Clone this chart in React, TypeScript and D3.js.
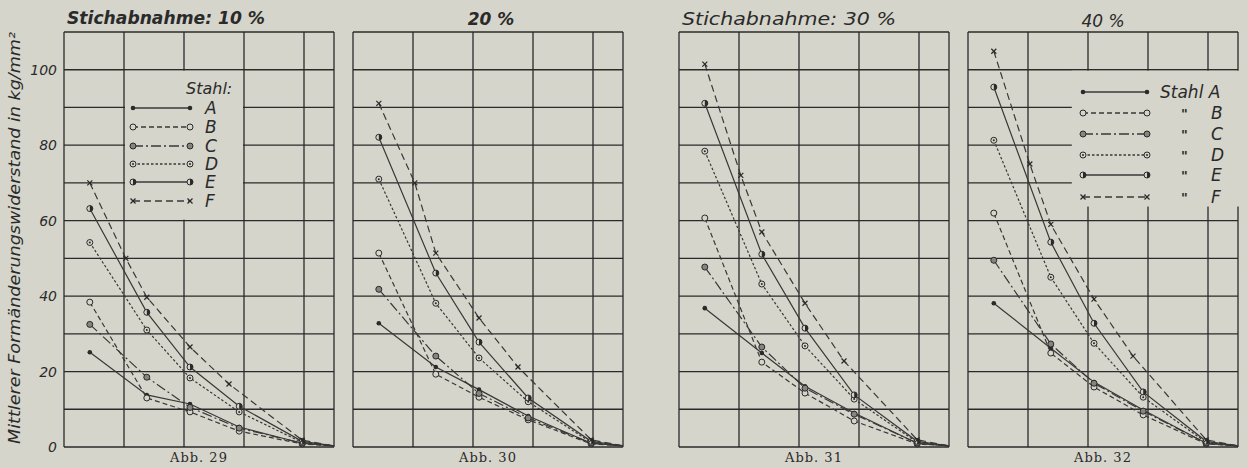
import * as d3 from 'd3';

const panelTitles = ['Stichabnahme: 10 %', '20 %', 'Stichabnahme: 30 %', '40 %'];
const figureLabels = ['Abb. 29', 'Abb. 30', 'Abb. 31', 'Abb. 32'];
const steelNames = ['A', 'B', 'C', 'D', 'E', 'F'];
const yTicks = [0, 20, 40, 60, 80, 100];
const yTitle = 'Mittlerer Formänderungswiderstand in kg/mm²';

// x positions of the measured points (F has two extra points)
const passX = [0.43, 1.38, 2.1, 2.92, 3.97, 4.5];
const passXF = [0.43, 1.03, 1.38, 2.1, 2.75, 3.97, 4.5];

// values per panel: 10 %, 20 %, 30 %, 40 %
const stahlA = [
  [25.1, 13.8, 11.4, 5.3, 1.0, 0.3],
  [32.8, 21.2, 15.2, 8.2, 1.0, 0.3],
  [36.8, 24.9, 16.1, 9.0, 1.0, 0.3],
  [38.1, 26.2, 17.2, 9.8, 1.0, 0.3],
];
const stahlB = [
  [38.4, 13.0, 9.3, 4.2, 0.8, 0.3],
  [51.4, 19.3, 13.2, 7.2, 0.8, 0.3],
  [60.7, 22.5, 14.3, 6.9, 0.8, 0.3],
  [62.0, 24.9, 15.9, 8.5, 0.8, 0.3],
];
const stahlC = [
  [32.5, 18.5, 10.5, 5.0, 1.0, 0.3],
  [41.8, 24.1, 14.2, 7.7, 1.0, 0.3],
  [47.7, 26.5, 15.6, 8.7, 1.0, 0.3],
  [49.5, 27.3, 16.9, 9.5, 1.0, 0.3],
];
const stahlD = [
  [54.2, 31.0, 18.3, 9.3, 1.2, 0.3],
  [71.0, 38.1, 23.6, 12.0, 1.2, 0.3],
  [78.4, 43.2, 26.8, 12.7, 1.2, 0.3],
  [81.3, 45.0, 27.5, 13.2, 1.2, 0.3],
];
const stahlE = [
  [63.2, 35.7, 21.2, 10.8, 1.5, 0.3],
  [82.1, 46.1, 27.8, 13.0, 1.5, 0.3],
  [91.1, 51.1, 31.5, 13.8, 1.5, 0.3],
  [95.4, 54.3, 32.8, 14.6, 1.5, 0.3],
];
const stahlF = [
  [70.0, 50.0, 39.7, 26.5, 16.7, 1.8, 0.3],
  [91.1, 70.0, 51.4, 34.2, 21.2, 1.9, 0.3],
  [101.5, 72.0, 57.0, 38.1, 22.8, 1.9, 0.3],
  [104.9, 75.0, 59.0, 39.2, 24.1, 1.9, 0.3],
];

const seriesValues = [stahlA, stahlB, stahlC, stahlD, stahlE, stahlF];

const BG = '#d6d5cb';
const INK = '#2a2a2a';
const LINE = '#383838';

const dashes: Record<string, string> = {
  A: '',
  B: '5,3',
  C: '10,3,2,3',
  D: '2.5,2',
  E: '',
  F: '7,4',
};

const panelLeft = [64, 353, 679, 968];
const unit = 60;
const yScale = d3.scaleLinear().domain([0, 110]).range([447, 32]);

function Marker({ kind, x, y }: { kind: string; x: number; y: number }) {
  const r = 3;
  if (kind === 'A') return <circle cx={x} cy={y} r={2.3} fill={INK} />;
  if (kind === 'B') return <circle cx={x} cy={y} r={r} fill={BG} stroke={INK} strokeWidth={1} />;
  if (kind === 'C') return <circle cx={x} cy={y} r={r} fill="#85847e" stroke={INK} strokeWidth={1} />;
  if (kind === 'D')
    return (
      <g>
        <circle cx={x} cy={y} r={r} fill={BG} stroke={INK} strokeWidth={1} />
        <circle cx={x} cy={y} r={1} fill={INK} />
      </g>
    );
  if (kind === 'E')
    return (
      <g>
        <circle cx={x} cy={y} r={r} fill={BG} stroke={INK} strokeWidth={1} />
        <path d={`M${x},${y - r} A${r},${r} 0 0,1 ${x},${y + r} Z`} fill={INK} />
      </g>
    );
  const s = 2.5;
  return (
    <g stroke={INK} strokeWidth={1.2}>
      <line x1={x - s} y1={y - s} x2={x + s} y2={y + s} />
      <line x1={x - s} y1={y + s} x2={x + s} y2={y - s} />
    </g>
  );
}

function Panel({ idx }: { idx: number }) {
  const left = panelLeft[idx];
  const x = d3.scaleLinear().domain([0, 4.5]).range([left, left + 4.5 * unit]);
  const gridX = d3.range(0, 5).concat([4.5]);
  const gridY = d3.range(0, 120, 10).filter((v) => v <= 110);
  const line = d3
    .line<[number, number]>()
    .x((d) => x(d[0]))
    .y((d) => yScale(d[1]));

  return (
    <g>
      {gridX.map((v) => (
        <line key={'vx' + v} x1={x(v)} x2={x(v)} y1={yScale(0)} y2={yScale(110)} stroke={INK} strokeWidth={1.3} />
      ))}
      {gridY.map((v) => (
        <line key={'hy' + v} x1={x(0)} x2={x(4.5)} y1={yScale(v)} y2={yScale(v)} stroke={INK} strokeWidth={1.3} />
      ))}
      {idx === 0 && <rect x={x(1) + 1} y={yScale(100) + 1} width={x(3) - x(1) - 2} height={yScale(60) - yScale(100) - 2} fill={BG} />}
      {idx === 3 && <rect x={x(1.73)} y={yScale(100) + 1} width={x(4.5) - x(1.73) + 2} height={yScale(64) - yScale(100)} fill={BG} />}
      {steelNames.map((name, si) => {
        const vals = seriesValues[si][idx];
        const xs = name === 'F' ? passXF : passX;
        const pts = vals.map((v, i) => [xs[i], v] as [number, number]);
        return (
          <g key={name}>
            <path d={line(pts) || ''} fill="none" stroke={LINE} strokeWidth={1.2} strokeDasharray={dashes[name]} />
            {pts.slice(0, pts.length - 1).map((p, i) => (
              <Marker key={i} kind={name} x={x(p[0])} y={yScale(p[1])} />
            ))}
          </g>
        );
      })}
      <text x={x(2.25)} y={462} textAnchor="middle" fontFamily="DejaVu Serif, serif" fontSize={13} letterSpacing={1} fill={INK}>
        {figureLabels[idx]}
      </text>
    </g>
  );
}

function LegendTen() {
  const rows = [108, 127, 146, 164, 182, 201];
  return (
    <g>
      <text x={186} y={94} fontFamily="DejaVu Sans, sans-serif" fontStyle="italic" fontSize={16} fill={INK}>
        Stahl:
      </text>
      {steelNames.map((name, i) => (
        <g key={name}>
          <line x1={133} x2={190} y1={rows[i]} y2={rows[i]} stroke={LINE} strokeWidth={1.3} strokeDasharray={dashes[name]} />
          <Marker kind={name} x={133} y={rows[i]} />
          <Marker kind={name} x={190} y={rows[i]} />
          <text x={205} y={rows[i] + 6} fontFamily="DejaVu Sans, sans-serif" fontStyle="italic" fontSize={17} fill={INK}>
            {name}
          </text>
        </g>
      ))}
    </g>
  );
}

function LegendForty() {
  const rows = [92, 113, 134, 155, 175, 197];
  return (
    <g>
      {steelNames.map((name, i) => (
        <g key={name}>
          <line x1={1083} x2={1147} y1={rows[i]} y2={rows[i]} stroke={LINE} strokeWidth={1.3} strokeDasharray={dashes[name]} />
          <Marker kind={name} x={1083} y={rows[i]} />
          <Marker kind={name} x={1147} y={rows[i]} />
          {i === 0 ? (
            <text x={1160} y={rows[i] + 6} fontFamily="DejaVu Sans, sans-serif" fontStyle="italic" fontSize={17} fill={INK}>
              Stahl A
            </text>
          ) : (
            <g>
              <text x={1181} y={rows[i] + 5} fontFamily="DejaVu Sans, sans-serif" fontStyle="italic" fontWeight="bold" fontSize={13} fill={INK}>
                "
              </text>
              <text x={1211} y={rows[i] + 6} fontFamily="DejaVu Sans, sans-serif" fontStyle="italic" fontSize={17} fill={INK}>
                {name}
              </text>
            </g>
          )}
        </g>
      ))}
    </g>
  );
}

export default function App() {
  const titleFont = 'DejaVu Sans, sans-serif';
  return (
    <div style={{ position: 'absolute', left: 0, top: 0, width: 1248, height: 468, background: BG }}>
      <svg width={1248} height={468} style={{ display: 'block' }}>
        <rect x={0} y={0} width={1248} height={468} fill={BG} />
        {[0, 1, 2, 3].map((i) => (
          <Panel key={i} idx={i} />
        ))}
        <LegendTen />
        <LegendForty />
        {yTicks.map((t) => (
          <text key={t} x={57} y={yScale(t) + 5} textAnchor="end" fontFamily={titleFont} fontStyle="italic" fontSize={14} fill={INK}>
            {t}
          </text>
        ))}
        <text
          transform="translate(20,238) rotate(-90)"
          textAnchor="middle"
          fontFamily={titleFont}
          fontStyle="italic"
          fontSize={15}
          fill={INK}
          textLength={412}
          lengthAdjust="spacingAndGlyphs"
        >
          {yTitle}
        </text>
        <text x={67} y={24} fontFamily={titleFont} fontStyle="italic" fontWeight="bold" fontSize={17} fill={INK} textLength={198} lengthAdjust="spacingAndGlyphs">
          {panelTitles[0]}
        </text>
        <text x={491} y={25} textAnchor="middle" fontFamily={titleFont} fontStyle="italic" fontWeight="bold" fontSize={17} fill={INK}>
          {panelTitles[1]}
        </text>
        <text x={682} y={25} fontFamily={titleFont} fontStyle="italic" fontSize={17} fill={INK} textLength={214} lengthAdjust="spacingAndGlyphs">
          {panelTitles[2]}
        </text>
        <text x={1103} y={27} textAnchor="middle" fontFamily={titleFont} fontStyle="italic" fontSize={17} fill={INK}>
          {panelTitles[3]}
        </text>
      </svg>
    </div>
  );
}
